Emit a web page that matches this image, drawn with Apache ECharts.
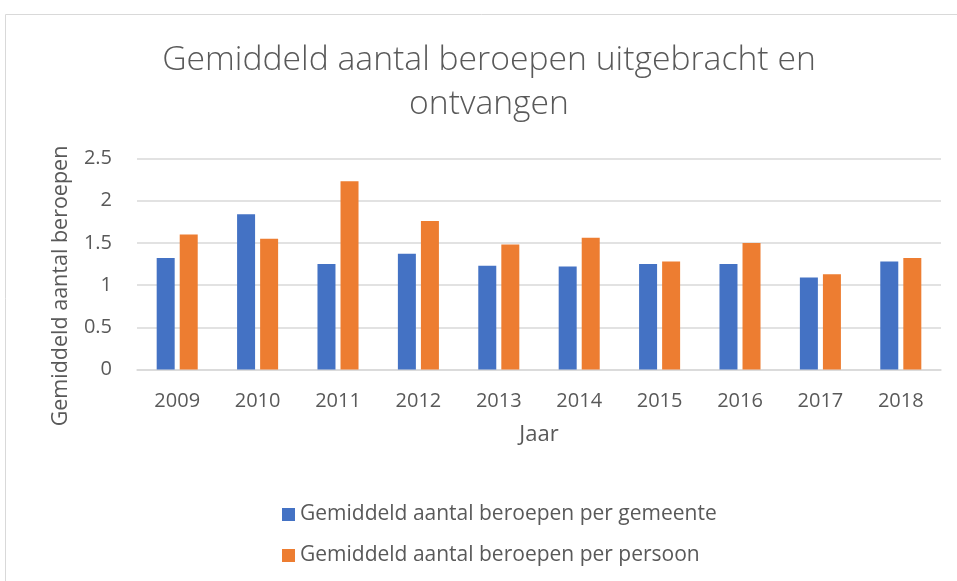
<!DOCTYPE html>
<html>
<head>
<meta charset="utf-8">
<script src="https://cdn.jsdelivr.net/npm/echarts@6/dist/echarts.min.js"></script>
<style>html,body{margin:0;padding:0;background:#fff}#c{width:957px;height:581px}</style>
</head>
<body>
<div id="c"></div>
<script>
const categories = ['2009','2010','2011','2012','2013','2014','2015','2016','2017','2018'];
const perGemeente = [1.32, 1.84, 1.25, 1.37, 1.23, 1.22, 1.25, 1.25, 1.09, 1.28];
const perPersoon = [1.60, 1.55, 2.23, 1.76, 1.48, 1.56, 1.28, 1.50, 1.13, 1.32];
const seriesNames = ['Gemiddeld aantal beroepen per gemeente', 'Gemiddeld aantal beroepen per persoon'];
const titleLines = ['Gemiddeld aantal beroepen uitgebracht en', 'ontvangen'];

const chart = echarts.init(document.getElementById('c'));
const txt = '#595959';
const font = '"Open Sans", "Noto Sans", sans-serif';
chart.setOption({
  animation: false,
  textStyle: { fontFamily: font },
  graphic: [
    { type: 'rect', shape: { x: 5.5, y: 14.5, width: 1000, height: 1000 }, style: { fill: 'none', stroke: '#d9d9d9', lineWidth: 1 } },
    { type: 'text', x: 489, y: 60, style: { text: titleLines[0], textAlign: 'center', textVerticalAlign: 'middle', fill: txt, font: '300 33.7px ' + font } },
    { type: 'text', x: 489, y: 104, style: { text: titleLines[1], textAlign: 'center', textVerticalAlign: 'middle', fill: txt, font: '300 33.7px ' + font } },
    { type: 'text', x: 61, y: 286, rotation: Math.PI / 2, style: { text: 'Gemiddeld aantal beroepen', textAlign: 'center', textVerticalAlign: 'middle', fill: txt, font: '21.5px ' + font } }
  ],
  grid: { left: 137, right: 16, top: 158.5, bottom: 211.5, containLabel: false },
  legend: {
    orient: 'vertical', left: 277, top: 499, itemWidth: 13, itemHeight: 13, itemGap: 20,
    icon: 'rect',
    textStyle: { color: txt, fontSize: 21, fontFamily: font },
    data: seriesNames
  },
  xAxis: {
    type: 'category', data: categories,
    name: 'Jaar', nameLocation: 'middle', nameGap: 54,
    nameTextStyle: { color: txt, fontSize: 22 },
    axisLine: { lineStyle: { color: '#d9d9d9', width: 1.5 } },
    axisTick: { show: false },
    axisLabel: { color: txt, fontSize: 20, margin: 22 }
  },
  yAxis: {
    type: 'value', min: 0, max: 2.5, interval: 0.5,
    axisLine: { show: false }, axisTick: { show: false },
    axisLabel: { color: txt, fontSize: 20, margin: 25 },
    splitLine: { lineStyle: { color: '#d9d9d9', width: 1.5 } }
  },
  series: [
    { name: seriesNames[0], type: 'bar', data: perGemeente, barWidth: 18, barGap: '28%', itemStyle: { color: '#4472C4' } },
    { name: seriesNames[1], type: 'bar', data: perPersoon, barWidth: 18, barGap: '28%', itemStyle: { color: '#ED7D31' } }
  ]
});
</script>
</body>
</html>
